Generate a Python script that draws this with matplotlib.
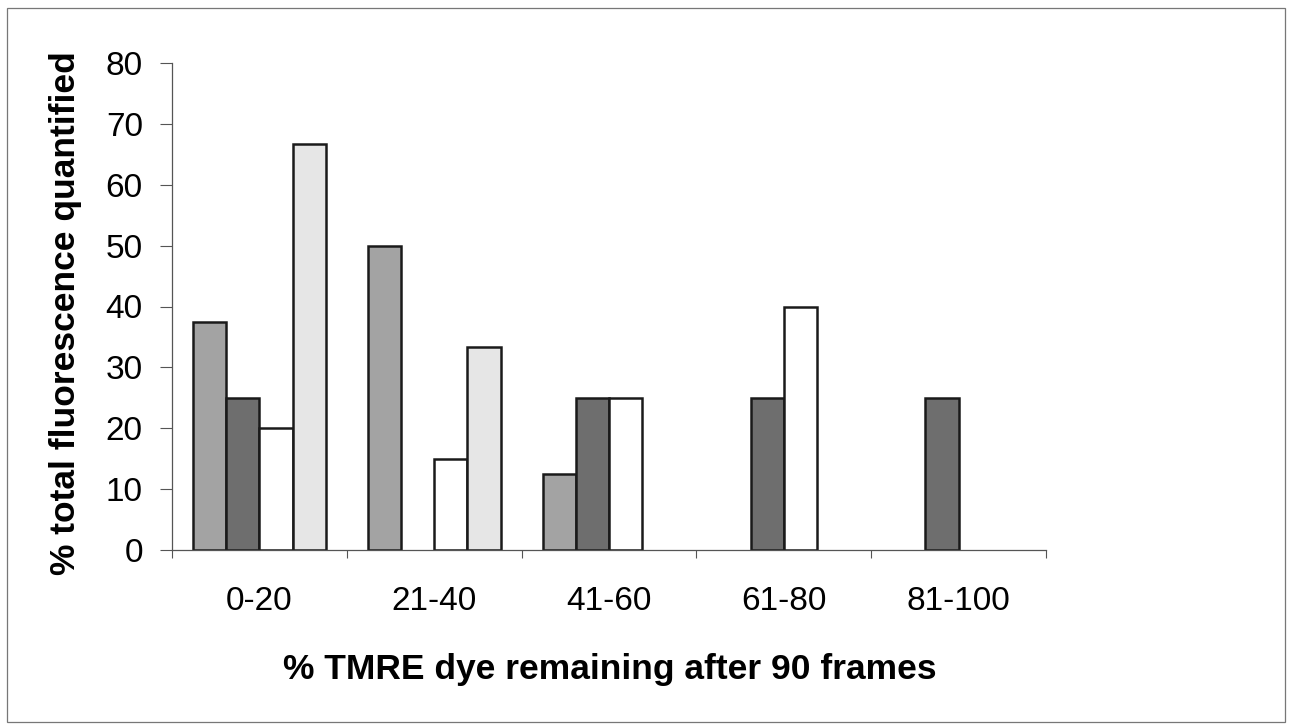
import numpy as np
import matplotlib.pyplot as plt
from matplotlib.patches import Rectangle

plt.rcParams['font.family'] = ['Liberation Sans', 'DejaVu Sans']

categories = ['0-20', '21-40', '41-60', '61-80', '81-100']
series_a = [37.5, 50, 12.5, 0, 0]
series_b = [25, 0, 25, 25, 25]
series_c = [20, 15, 25, 40, 0]
series_d = [66.7, 33.3, 0, 0, 0]
y_ticks = [0, 10, 20, 30, 40, 50, 60, 70, 80]

fig = plt.figure(figsize=(12.9, 7.28), dpi=100)
ax = fig.add_axes([172 / 1290, 1 - 550 / 728, (1046 - 172) / 1290, (550 - 63) / 728])

x = np.arange(len(categories))
w = 0.19
colors = ['#a3a3a3', '#6e6e6e', '#ffffff', '#e6e6e6']
for i, (vals, col) in enumerate(zip([series_a, series_b, series_c, series_d], colors)):
    bars = ax.bar(x + (i - 1.5) * w, vals, width=w, color=col, edgecolor='#1a1a1a', linewidth=1.8)
    # Excel draws nothing for empty bars
    for b, v in zip(bars, vals):
        if v == 0:
            b.set_visible(False)

ax.set_xlim(-0.5, len(categories) - 0.5)
ax.set_ylim(0, 80)
ax.set_yticks(y_ticks)
ax.set_xticks(x)
ax.set_xticklabels(categories)
ax.set_xticks(np.arange(len(categories) + 1) - 0.5, minor=True)
ax.tick_params(axis='x', which='major', length=0, pad=26, labelsize=24)
ax.tick_params(axis='x', which='minor', length=6, width=0.8, direction='out', color='#555555')
ax.tick_params(axis='y', length=9, width=0.8, pad=12, labelsize=24, color='#555555')

for s in ['top', 'right']:
    ax.spines[s].set_visible(False)
for s in ['left', 'bottom']:
    ax.spines[s].set_color('#555555')
    ax.spines[s].set_linewidth(0.9)

fig.text(610 / 1290, 1 - 670 / 728, '% TMRE dye remaining after 90 frames',
         ha='center', va='center', fontsize=25.5, fontweight='bold')
fig.text(66 / 1290, 1 - 313 / 728, '% total fluorescence quantified',
         ha='center', va='center', rotation=90, fontsize=25.5, fontweight='bold')

fig.patches.append(Rectangle((7 / 1290, 6 / 728), 1278 / 1290, 714 / 728, transform=fig.transFigure,
                             fill=False, edgecolor='#777777', linewidth=0.9))

fig.savefig('out.png', dpi=100)
